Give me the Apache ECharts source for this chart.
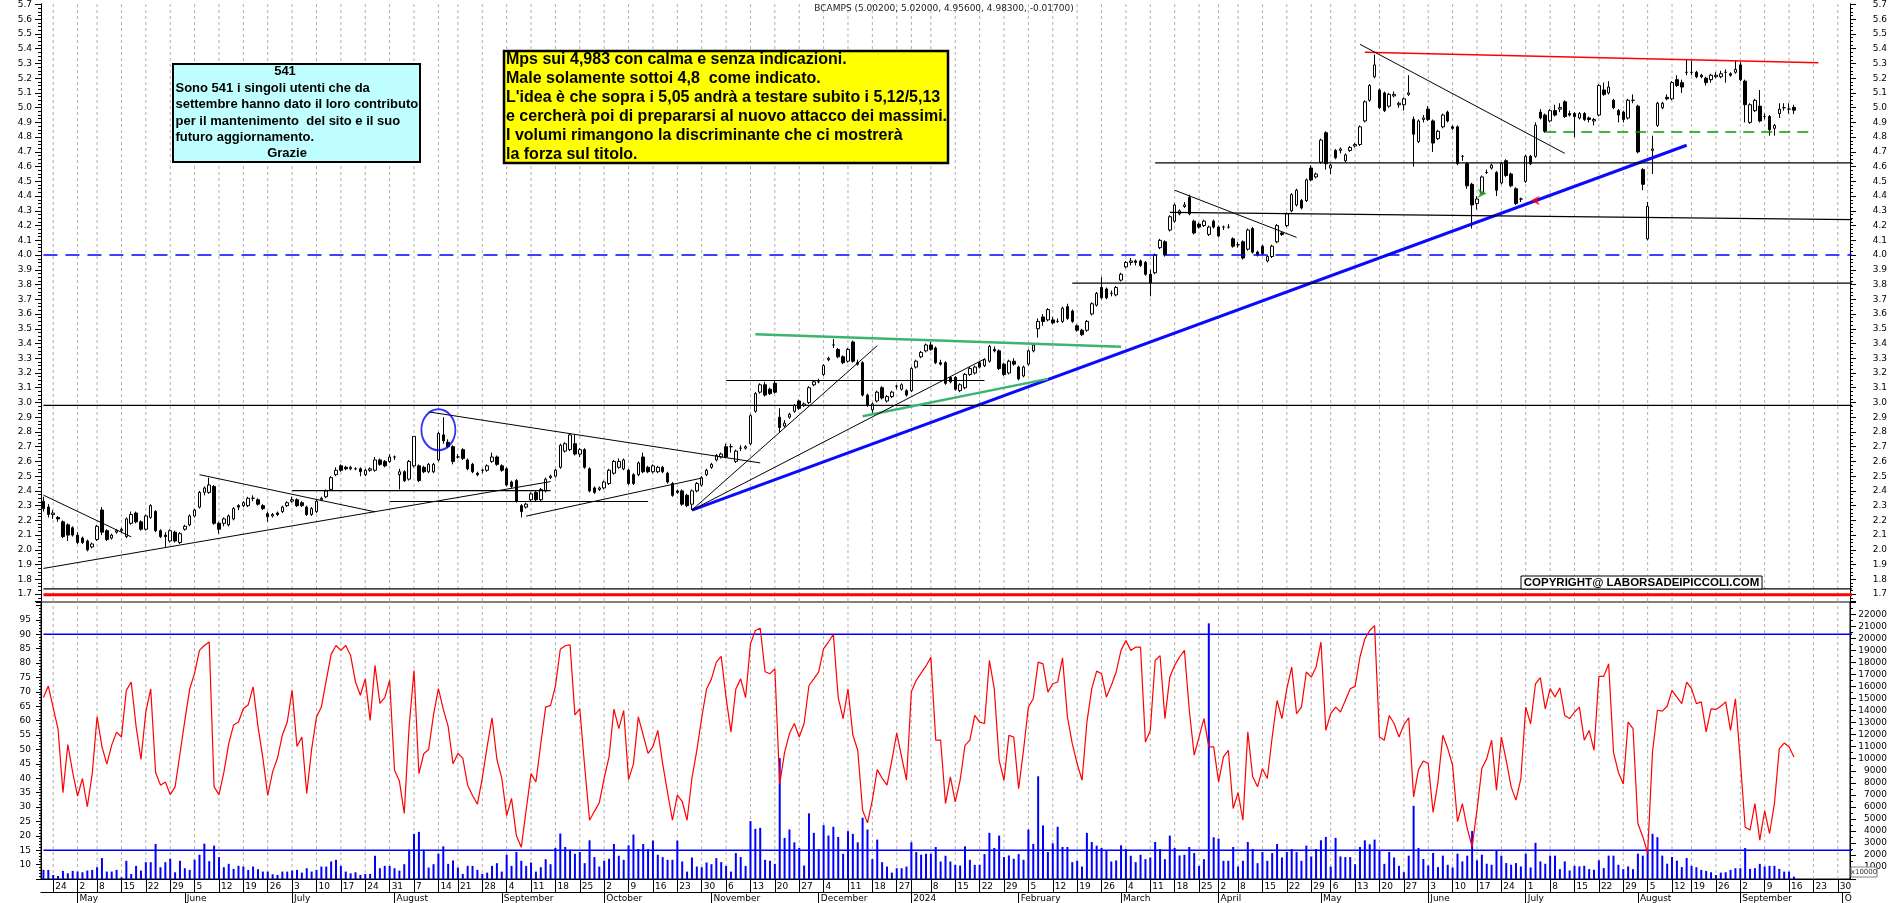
<!DOCTYPE html>
<html>
<head>
<meta charset="utf-8">
<script src="https://cdn.jsdelivr.net/npm/echarts@6/dist/echarts.min.js"></script>
<style>
html,body{margin:0;padding:0;background:#fff;}
#chart{width:1890px;height:903px;}
</style>
</head>
<body>
<div id="chart"></div>
<script>
// ---------- calendar (Borsa Italiana trading days) ----------
const HOLIDAYS = ['2023-05-01','2023-08-15','2023-12-25','2023-12-26','2024-01-01','2024-03-29','2024-04-01','2024-05-01','2024-08-15'];
const FIRST_DAY = '2023-04-20';
const SLOT_COUNT = 371; // axis runs to 2024-10-02
function buildDates(startISO, n) {
  const out = [];
  const d = new Date(startISO + 'T12:00:00Z');
  while (out.length < n) {
    const dow = d.getUTCDay();
    const iso = d.toISOString().slice(0, 10);
    if (dow !== 0 && dow !== 6 && HOLIDAYS.indexOf(iso) < 0) out.push(iso);
    d.setUTCDate(d.getUTCDate() + 1);
  }
  return out;
}
const dates = buildDates(FIRST_DAY, SLOT_COUNT);

// ---------- price data: [open, high, low, close] ----------
const ohlc = [
[2.33,2.36,2.26,2.28],[2.29,2.31,2.22,2.24],[2.24,2.27,2.21,2.25],[2.22,2.23,2.19,2.21],[2.19,2.20,2.08,2.09],[2.17,2.18,2.06,2.10],[2.15,2.16,2.09,2.10],[2.10,2.12,2.04,2.05],[2.08,2.09,2.04,2.05],[2.06,2.07,1.99,2.00],
[2.02,2.05,2.01,2.04],[2.07,2.17,2.06,2.16],[2.27,2.29,2.10,2.12],[2.13,2.14,2.06,2.07],[2.08,2.11,2.07,2.10],[2.12,2.14,2.11,2.13],[2.13,2.15,2.12,2.14],[2.09,2.22,2.08,2.21],[2.18,2.26,2.17,2.24],[2.25,2.26,2.18,2.19],
[2.19,2.20,2.13,2.14],[2.14,2.24,2.13,2.23],[2.22,2.31,2.21,2.30],[2.26,2.27,2.12,2.13],[2.13,2.14,2.08,2.09],[2.10,2.12,2.02,2.09],[2.06,2.14,2.05,2.13],[2.12,2.13,2.05,2.06],[2.05,2.12,2.04,2.11],[2.14,2.17,2.13,2.16],
[2.17,2.24,2.16,2.23],[2.23,2.28,2.22,2.27],[2.29,2.40,2.28,2.39],[2.39,2.43,2.37,2.42],[2.39,2.49,2.38,2.44],[2.43,2.44,2.17,2.18],[2.18,2.19,2.11,2.14],[2.18,2.22,2.16,2.21],[2.17,2.24,2.16,2.23],[2.21,2.29,2.20,2.28],
[2.30,2.31,2.27,2.29],[2.30,2.33,2.29,2.32],[2.30,2.36,2.29,2.35],[2.35,2.37,2.33,2.35],[2.34,2.35,2.30,2.31],[2.30,2.31,2.27,2.28],[2.245,2.26,2.19,2.225],[2.23,2.25,2.22,2.24],[2.25,2.26,2.23,2.24],[2.26,2.30,2.25,2.29],
[2.30,2.33,2.29,2.32],[2.33,2.36,2.32,2.34],[2.34,2.35,2.29,2.30],[2.32,2.33,2.29,2.30],[2.29,2.30,2.23,2.24],[2.24,2.29,2.23,2.28],[2.26,2.34,2.25,2.33],[2.34,2.36,2.33,2.35],[2.36,2.41,2.35,2.40],[2.41,2.50,2.40,2.49],
[2.51,2.56,2.50,2.54],[2.57,2.58,2.53,2.54],[2.56,2.57,2.54,2.55],[2.55,2.57,2.54,2.56],[2.55,2.56,2.54,2.55],[2.55,2.56,2.50,2.53],[2.51,2.55,2.50,2.54],[2.54,2.56,2.53,2.55],[2.54,2.63,2.53,2.61],[2.61,2.62,2.57,2.58],
[2.60,2.61,2.56,2.57],[2.60,2.65,2.59,2.63],[2.63,2.64,2.61,2.63],[2.51,2.55,2.41,2.53],[2.53,2.54,2.46,2.47],[2.48,2.61,2.47,2.60],[2.57,2.77,2.56,2.77],[2.57,2.58,2.46,2.47],[2.56,2.57,2.52,2.53],[2.53,2.59,2.52,2.58],
[2.53,2.59,2.52,2.58],[2.61,2.80,2.60,2.79],[2.78,2.90,2.72,2.74],[2.73,2.75,2.69,2.70],[2.70,2.71,2.58,2.60],[2.63,2.65,2.62,2.63],[2.68,2.69,2.61,2.62],[2.61,2.62,2.54,2.55],[2.58,2.59,2.52,2.53],[2.52,2.53,2.50,2.51],
[2.54,2.55,2.52,2.54],[2.54,2.58,2.53,2.57],[2.60,2.66,2.59,2.63],[2.63,2.64,2.57,2.58],[2.57,2.58,2.53,2.54],[2.55,2.56,2.43,2.44],[2.46,2.47,2.42,2.43],[2.47,2.48,2.32,2.33],[2.30,2.31,2.22,2.26],[2.29,2.32,2.28,2.31],
[2.34,2.39,2.33,2.38],[2.39,2.40,2.33,2.34],[2.34,2.42,2.33,2.41],[2.40,2.49,2.39,2.48],[2.49,2.51,2.48,2.50],[2.50,2.55,2.49,2.54],[2.56,2.72,2.55,2.71],[2.67,2.73,2.66,2.72],[2.68,2.79,2.67,2.78],[2.72,2.78,2.64,2.65],
[2.65,2.69,2.63,2.68],[2.68,2.69,2.55,2.56],[2.55,2.56,2.39,2.40],[2.42,2.43,2.38,2.39],[2.41,2.43,2.40,2.42],[2.42,2.47,2.41,2.46],[2.45,2.55,2.44,2.54],[2.52,2.61,2.51,2.60],[2.56,2.62,2.55,2.60],[2.55,2.62,2.54,2.61],
[2.54,2.55,2.44,2.45],[2.51,2.52,2.44,2.45],[2.51,2.60,2.50,2.59],[2.63,2.66,2.52,2.53],[2.56,2.57,2.52,2.53],[2.53,2.58,2.52,2.57],[2.53,2.57,2.52,2.56],[2.56,2.57,2.52,2.53],[2.52,2.53,2.45,2.46],[2.45,2.46,2.36,2.37],
[2.40,2.41,2.38,2.39],[2.40,2.41,2.30,2.31],[2.37,2.38,2.29,2.30],[2.31,2.41,2.27,2.40],[2.40,2.46,2.39,2.45],[2.44,2.50,2.43,2.49],[2.51,2.55,2.50,2.54],[2.56,2.59,2.55,2.58],[2.61,2.65,2.60,2.64],[2.63,2.66,2.62,2.65],
[2.70,2.72,2.62,2.63],[2.70,2.72,2.66,2.70],[2.60,2.68,2.59,2.67],[2.69,2.71,2.67,2.69],[2.69,2.71,2.68,2.70],[2.72,2.92,2.71,2.91],[2.94,3.07,2.93,3.06],[3.07,3.13,3.06,3.12],[3.12,3.14,3.04,3.05],[3.09,3.10,3.05,3.06],
[3.13,3.15,3.06,3.07],[2.90,2.96,2.80,2.83],[2.84,2.88,2.83,2.86],[2.90,2.93,2.89,2.92],[2.94,2.99,2.93,2.98],[3.01,3.02,2.95,2.96],[2.98,3.00,2.97,2.99],[3.00,3.11,2.99,3.10],[3.12,3.15,3.11,3.14],[3.14,3.16,3.13,3.14],
[3.19,3.26,3.18,3.25],[3.29,3.31,3.28,3.30],[3.39,3.43,3.37,3.39],[3.36,3.37,3.30,3.31],[3.31,3.32,3.26,3.27],[3.28,3.37,3.27,3.36],[3.41,3.42,3.27,3.28],[3.27,3.29,3.25,3.26],[3.27,3.28,3.04,3.05],[3.05,3.06,2.97,2.98],
[2.95,3.00,2.93,2.99],[3.01,3.08,3.00,3.07],[3.10,3.11,3.02,3.03],[3.01,3.05,3.00,3.04],[3.04,3.08,3.03,3.07],[3.11,3.12,3.09,3.11],[3.09,3.13,3.08,3.12],[3.08,3.09,3.04,3.05],[3.08,3.24,3.07,3.23],[3.24,3.29,3.23,3.28],
[3.31,3.35,3.30,3.34],[3.35,3.40,3.34,3.39],[3.39,3.41,3.35,3.36],[3.37,3.38,3.26,3.27],[3.27,3.29,3.25,3.26],[3.27,3.28,3.12,3.13],[3.17,3.18,3.13,3.14],[3.17,3.18,3.08,3.09],[3.08,3.13,3.07,3.12],[3.10,3.20,3.09,3.19],
[3.19,3.24,3.18,3.23],[3.20,3.25,3.19,3.24],[3.27,3.28,3.23,3.24],[3.25,3.30,3.24,3.29],[3.28,3.39,3.27,3.38],[3.36,3.38,3.34,3.35],[3.35,3.36,3.22,3.23],[3.26,3.27,3.18,3.19],[3.20,3.29,3.19,3.28],[3.28,3.30,3.25,3.26],
[3.24,3.25,3.15,3.16],[3.18,3.25,3.17,3.24],[3.26,3.36,3.25,3.35],[3.35,3.40,3.34,3.39],[3.50,3.57,3.44,3.55],[3.58,3.60,3.52,3.55],[3.56,3.64,3.55,3.63],[3.56,3.58,3.53,3.54],[3.55,3.57,3.54,3.55],[3.55,3.65,3.54,3.64],
[3.65,3.67,3.56,3.57],[3.62,3.63,3.54,3.55],[3.52,3.53,3.48,3.49],[3.49,3.50,3.45,3.46],[3.49,3.56,3.48,3.55],[3.60,3.68,3.59,3.67],[3.66,3.75,3.65,3.74],[3.78,3.85,3.70,3.71],[3.77,3.78,3.70,3.71],[3.74,3.76,3.72,3.74],
[3.73,3.79,3.72,3.78],[3.83,3.88,3.82,3.87],[3.92,3.96,3.91,3.95],[3.95,3.98,3.93,3.96],[3.96,3.97,3.93,3.95],[3.96,3.97,3.92,3.93],[3.95,3.96,3.86,3.87],[3.87,3.90,3.72,3.81],[3.88,4.01,3.87,4.00],[4.05,4.11,4.04,4.10],
[4.09,4.10,3.99,4.00],[4.17,4.27,4.16,4.26],[4.23,4.35,4.22,4.34],[4.28,4.31,4.27,4.30],[4.33,4.36,4.32,4.34],[4.39,4.41,4.27,4.28],[4.23,4.24,4.14,4.15],[4.21,4.22,4.18,4.19],[4.20,4.24,4.19,4.23],[4.14,4.20,4.13,4.19],
[4.23,4.24,4.18,4.19],[4.19,4.20,4.12,4.13],[4.19,4.20,4.17,4.19],[4.19,4.21,4.18,4.19],[4.11,4.12,4.05,4.06],[4.07,4.09,4.05,4.07],[4.09,4.10,3.97,3.98],[4.04,4.18,4.03,4.17],[4.18,4.19,4.01,4.02],[4.02,4.03,3.99,4.00],
[4.06,4.07,4.00,4.01],[3.96,4.00,3.95,3.99],[3.99,4.07,3.98,4.06],[4.09,4.21,4.08,4.20],[4.15,4.16,4.13,4.14],[4.20,4.29,4.19,4.28],[4.30,4.42,4.29,4.41],[4.34,4.45,4.33,4.44],[4.37,4.38,4.31,4.32],[4.37,4.52,4.36,4.51],
[4.59,4.61,4.50,4.51],[4.53,4.56,4.52,4.55],[4.63,4.79,4.62,4.78],[4.83,4.84,4.58,4.62],[4.59,4.62,4.55,4.61],[4.71,4.72,4.65,4.66],[4.71,4.73,4.69,4.72],[4.64,4.69,4.63,4.68],[4.71,4.74,4.70,4.73],[4.74,4.76,4.73,4.75],
[4.75,4.88,4.74,4.87],[4.91,5.05,4.90,5.04],[5.05,5.16,5.04,5.15],[5.21,5.36,5.20,5.29],[5.12,5.13,4.99,5.00],[5.10,5.11,4.97,4.98],[5.01,5.10,5.00,5.09],[5.08,5.11,5.07,5.09],[5.02,5.04,5.00,5.03],[5.02,5.07,4.98,5.06],
[5.09,5.22,5.08,5.10],[4.92,4.94,4.60,4.82],[4.77,4.92,4.76,4.91],[4.92,4.95,4.90,4.93],[4.99,5.01,4.91,4.92],[4.91,4.92,4.70,4.76],[4.79,4.85,4.78,4.84],[4.87,4.96,4.86,4.95],[4.97,4.98,4.90,4.91],[4.87,4.88,4.85,4.86],
[4.87,4.88,4.61,4.62],[4.67,4.68,4.64,4.67],[4.62,4.63,4.45,4.47],[4.48,4.49,4.18,4.34],[4.35,4.40,4.31,4.38],[4.42,4.54,4.41,4.53],[4.56,4.58,4.55,4.56],[4.59,4.62,4.58,4.61],[4.56,4.57,4.40,4.44],[4.49,4.63,4.48,4.62],
[4.64,4.65,4.53,4.54],[4.55,4.56,4.46,4.47],[4.45,4.46,4.34,4.35],[4.38,4.39,4.36,4.38],[4.50,4.68,4.49,4.67],[4.67,4.68,4.61,4.62],[4.67,4.90,4.66,4.88],[4.97,4.99,4.92,4.93],[4.95,4.96,4.83,4.84],[4.91,4.99,4.90,4.98],
[4.98,5.02,4.94,4.95],[4.99,5.03,4.97,5.00],[5.04,5.05,4.93,4.94],[4.96,4.98,4.94,4.95],[4.96,4.97,4.80,4.94],[4.93,4.97,4.92,4.96],[4.96,4.97,4.91,4.92],[4.93,4.94,4.90,4.92],[4.91,4.93,4.88,4.92],[4.95,5.16,4.94,5.15],
[5.12,5.17,5.08,5.09],[5.10,5.18,5.09,5.14],[5.05,5.06,4.99,5.00],[4.98,4.99,4.90,4.95],[4.97,4.98,4.90,4.92],[4.93,5.06,4.92,5.05],[5.05,5.09,5.03,5.05],[5.01,5.02,4.69,4.70],[4.58,4.59,4.44,4.48],[4.11,4.36,4.10,4.33],
[4.71,4.81,4.55,4.72],[4.88,5.04,4.87,5.03],[5.00,5.04,4.99,5.03],[5.07,5.09,5.05,5.06],[5.06,5.18,5.05,5.17],[5.19,5.22,5.14,5.15],[5.17,5.19,5.10,5.14],[5.24,5.33,5.22,5.24],[5.24,5.32,5.22,5.24],[5.24,5.25,5.20,5.21],
[5.22,5.23,5.20,5.21],[5.20,5.21,5.15,5.17],[5.19,5.23,5.17,5.22],[5.21,5.24,5.20,5.22],[5.21,5.25,5.20,5.23],[5.24,5.26,5.17,5.24],[5.23,5.24,5.21,5.22],[5.24,5.32,5.23,5.26],[5.29,5.31,5.18,5.19],[5.18,5.19,4.90,5.02],
[4.90,5.03,4.89,5.02],[4.98,5.06,4.97,5.05],[5.01,5.12,4.90,4.91],[4.94,4.96,4.92,4.94],[4.94,4.95,4.81,4.85],[4.86,4.89,4.81,4.88],[4.96,5.03,4.93,4.99],[5.00,5.03,4.98,5.00],[4.99,5.03,4.96,4.99],[5.002,5.02,4.956,4.983]
];

// ---------- oscillator (left lower scale) ----------
const osc = [
68,72,64.5,57,35,51.7,42,33.8,39.9,30.1,
41.5,61.3,51,44.9,51.5,56,54.3,70.5,73.4,58,
46.5,63,71,42,37.6,38.7,34.3,37,48.5,60.1,
71,76.5,84.4,86.1,87.3,37,34.3,42,52,58.5,
59.5,64.1,65.5,71.7,58,47,34,42.2,47,55,
59.5,70.5,51,54.3,34.7,50,61.3,64.7,74,83,
86.1,84.4,86.1,82.6,73.4,68.8,74.5,60.1,79.2,66,
68,74,42.8,39,27.8,58,77.4,41.6,48.5,50,
62,71.1,64,58,45,48.6,47,37.6,34,31,
40,51,61,46.5,40,27,33,20,16,29,
41.6,38.7,52,64.7,65.3,72,84.8,86,86.3,62,
64.1,44,25.4,28.5,31.5,40,47.4,64,57.2,63.5,
39.5,45,61.3,55,48.6,51,56.6,45,35,25.4,
34.1,32,25.4,40,49.7,61,71,74.5,80.3,82.3,
68,56,71,74.5,68,86.7,91.3,92.1,77,76.3,
78,38,49,55.5,59,54.3,59,72.2,74.5,76.9,
85,87.3,90,68,60.7,71,55,49.7,28.9,24.5,
32.4,43,40,37.6,46.2,55.7,47.4,39.3,70,74,
76.5,79,82,53.2,53.2,31.2,40.5,31.8,39.3,51.4,
53.2,61.8,59.5,59,80.9,71.1,46.2,39.3,54.9,54.3,
36.4,49.7,64.7,67.6,80.3,79.7,69.9,72.8,73.4,81.8,
61.3,52,45.1,39.3,59.5,71.1,77.2,76.3,68.2,72.2,
76.9,84.4,87.8,84.4,85.5,85.5,52.6,56.6,80.9,82.6,
60.7,75.1,79.2,82.1,84.4,63.6,48,54.3,60.7,50.9,
50.9,38.7,47.4,49.7,29.5,35,25.4,56.1,40.5,37,
43.3,39.9,54.3,67,60.7,71.1,78.6,62.4,64.7,76.9,
75.1,78.6,87.3,56.6,62.4,64.7,63,67,71.1,71.9,
82.1,88.4,91.3,93,54.3,53.2,61.8,59,54.3,58.5,
61,33.5,43,46,45.1,28.1,38.7,54.9,50.3,44.5,
24.9,31.2,22.6,16.2,28.9,43.4,46.8,53.2,35.8,54.3,
46.2,37,32.4,39.9,64.7,58.9,72.8,74.9,64.1,71.1,
68.2,71.4,61.8,60.7,63,64.7,53.2,56.6,49.7,75.4,
75.4,79.7,49,42,38,59.5,57.2,24.3,19.7,13.9,
49.1,63.6,63.3,65,70.5,68.2,65.9,73.4,71.1,65.9,
66.5,56.1,64.1,63.9,65,66.5,56.6,67.6,46.2,23,
22,31.2,18.5,28.7,20.8,31.2,50.3,52.2,50.9,47.4
];

// ---------- volume (x10000, right lower scale) ----------
const volume = [
756,756,336,252,672,476,672,616,560,700,
756,980,1737,616,616,756,140,1512,420,1092,
700,1400,1400,2913,980,1400,1680,560,1512,896,
756,1596,2016,2940,1484,2773,1820,980,1260,840,
1092,1036,750,1036,812,616,616,392,336,616,
616,700,756,532,896,616,756,1036,1036,1456,
1596,1092,616,476,560,336,420,420,1932,896,
1092,1092,896,700,1232,2436,3752,3920,2436,952,
1232,2100,2716,1260,1540,952,420,1092,1092,756,
420,532,1092,1316,616,2016,1092,2240,1512,1092,
1372,616,980,1652,1232,2576,3780,2660,2436,2100,
2240,1316,3220,1820,1036,1512,1680,2912,1932,1596,
2800,3696,2492,2912,2492,3192,2016,1820,1596,1596,
3192,1456,616,1792,1036,980,1372,1232,1736,1400,
1092,616,2156,1820,1092,4816,4172,4256,1596,1512,
1260,10052,3416,4116,3052,2576,1120,5460,3836,2492,
4480,3612,4340,3500,2100,3976,3752,3052,5096,4116,
1652,3276,1400,1036,532,896,896,1036,3052,2240,
2016,2100,2100,2660,1456,1932,1456,1176,1120,2716,
1596,1176,1176,2072,3836,2576,3612,1820,1960,1680,
2072,1596,4116,2912,8540,4452,2240,2968,4340,2660,
2660,1400,1512,1036,3836,3080,2772,2576,2380,1456,
1540,2800,2492,1932,1400,2016,1652,1792,3080,2492,
1652,3612,2576,1960,2016,2660,2156,1092,1652,21261,
3472,3360,1512,1512,2660,1036,1512,3080,2492,1316,
2240,1512,2156,2912,1792,2240,2492,2240,1512,2772,
1876,2492,3220,3500,1036,3416,1876,1820,1820,1232,
2660,3220,2884,3276,2380,1260,2240,1792,1092,569,
1941,6085,2585,1661,1129,2165,989,1941,1185,961,
2109,1465,1941,3985,1549,2025,1269,1185,2389,1941,
1325,1185,1325,1045,2109,961,3005,1465,1269,1941,
1941,821,1465,709,1101,1045,1101,821,765,1549,
905,1941,1941,1185,821,1045,821,2109,1941,2389,
3761,3481,1941,1269,1829,1521,989,1745,1092,980,
756,672,560,336,532,560,756,896,896,2580,
840,896,1260,1036,1092,1092,840,616,616,196
];

// ---------- drawn annotation lines [xIndex1, price1, xIndex2, price2, style] ----------
const trendLines = [
  [133, 2.27, 337.2, 4.745, 'blueThick'],
  [271.1, 5.376, 364.1, 5.304, 'red'],
  [307.9, 4.835, 363, 4.835, 'greenDash'],
  [-0.5, 4.0, 370.5, 4.0, 'blueDash'],
  [-0.5, 2.98, 370.5, 2.98, 'level'],
  [-0.5, 1.735, 370.5, 1.735, 'level'],
  [-0.5, 1.695, 370.5, 1.695, 'redThick'],
  [228.2, 4.625, 370.5, 4.625, 'level'],
  [211.1, 3.81, 370.5, 3.81, 'level'],
  [231.1, 4.29, 370.5, 4.24, 'level'],
  [270.2, 5.43, 312, 4.69, 'thin'],
  [232, 4.44, 257.1, 4.12, 'thin'],
  [145.7, 3.463, 221, 3.378, 'green'],
  [168.2, 2.907, 206.2, 3.16, 'green'],
  [139.9, 3.149, 193, 3.149, 'level'],
  [133, 2.27, 170.7, 3.385, 'thin'],
  [133, 2.27, 193.4, 3.295, 'thin'],
  [79, 2.936, 146.8, 2.59, 'thin'],
  [-0.5, 2.371, 18, 2.088, 'thin'],
  [-0.5, 1.874, 104, 2.463, 'thin'],
  [32.1, 2.51, 67.5, 2.258, 'thin'],
  [51, 2.402, 103.7, 2.402, 'level'],
  [71.2, 2.328, 123.8, 2.328, 'level'],
  [99.2, 2.229, 134.7, 2.487, 'thin']
];
const circleMark = [81.3, 2.815];
const greenArrow = [296, 4.418];
const redArrow = [304.7, 4.37];
const oscLevels = [90, 15];

const MONTHS = ['January','February','March','April','May','June','July','August','September','October','November','December'];

// ---------- helpers ----------
function dow(iso) { return new Date(iso + 'T12:00:00Z').getUTCDay(); }
const isWeekStart = dates.map((d, i) => i > 0 && dow(d) <= dow(dates[i - 1]));
const isMonthStart = dates.map((d, i) => i > 0 && d.slice(5, 7) !== dates[i - 1].slice(5, 7));
const weekFn = (i) => isWeekStart[i];
const weekLabelFn = (i) => isWeekStart[i] && !(isMonthStart[i] && dates[i].slice(5, 7) === '01');
const monthFn = (i) => isMonthStart[i];
function monthLabel(v) {
  const m = +v.slice(5, 7);
  if (m === 1) return v.slice(0, 4);
  if (v.slice(0, 7) === '2024-10') return 'O';
  return MONTHS[m - 1];
}
// vertical weekly grid lines, one broken polyline per pane
function weekGrid(lo, hi) {
  const out = [];
  isWeekStart.forEach((w, i) => { if (w) { out.push([i, lo], [i, hi], [i, '-']); } });
  return out;
}

const LINE_STYLES = {
  blueThick: { color: '#0a0aff', width: 3 },
  red: { color: '#ff0000', width: 1.5 },
  greenDash: { color: '#00a000', width: 1.5, type: [11, 7] },
  blueDash: { color: '#0000ff', width: 1.5, type: [14, 8] },
  level: { color: '#000000', width: 1.2 },
  redThick: { color: '#ff0000', width: 3 },
  thin: { color: '#000000', width: 1 },
  green: { color: '#3cb46e', width: 2.5 }
};

const AXIS_FONT = 'DejaVu Sans';
const gridLineStyle = { color: '#b0b0b0', width: 1, type: [3, 3] };

const PRICE_MIN = 1.653, PRICE_MAX = 5.705;
const OSC_MIN = 5, OSC_MAX = 101.2;

const series = [];
series.push({
  type: 'line', xAxisIndex: 0, yAxisIndex: 0, z: 1, silent: true, symbol: 'none', connectNulls: false,
  data: weekGrid(PRICE_MIN, PRICE_MAX), lineStyle: gridLineStyle
});
series.push({
  type: 'line', xAxisIndex: 1, yAxisIndex: 2, z: 1, silent: true, symbol: 'none', connectNulls: false,
  data: weekGrid(OSC_MIN, OSC_MAX), lineStyle: gridLineStyle
});
series.push({
  type: 'candlestick', xAxisIndex: 0, yAxisIndex: 0, z: 3,
  barWidth: 3,
  data: ohlc.map(r => [r[0], r[3], r[2], r[1]]),
  itemStyle: { color: '#ffffff', color0: '#000000', borderColor: '#000000', borderColor0: '#000000', borderWidth: 1 }
});
trendLines.forEach(t => {
  series.push({
    type: 'line', xAxisIndex: 0, yAxisIndex: 0, z: 4, silent: true, symbol: 'none',
    data: [[t[0], t[1]], [t[2], t[3]]],
    lineStyle: LINE_STYLES[t[4]]
  });
});
series.push({
  type: 'scatter', xAxisIndex: 0, yAxisIndex: 0, z: 5, silent: true,
  symbol: 'circle', symbolSize: [34, 41], data: [circleMark],
  itemStyle: { color: 'rgba(0,0,0,0)', borderColor: '#0000ff', borderWidth: 2 }
});
series.push({
  type: 'scatter', xAxisIndex: 0, yAxisIndex: 0, z: 5, silent: true,
  symbol: 'arrow', symbolSize: [7, 9], symbolRotate: -90, data: [greenArrow],
  itemStyle: { color: '#1c9a1c' }
});
series.push({
  type: 'scatter', xAxisIndex: 0, yAxisIndex: 0, z: 5, silent: true,
  symbol: 'arrow', symbolSize: [7, 9], symbolRotate: 90, data: [redArrow],
  itemStyle: { color: '#ff0000' }
});
series.push({
  type: 'bar', xAxisIndex: 1, yAxisIndex: 3, z: 2, barWidth: 2,
  data: volume, itemStyle: { color: '#0000ff' }
});
oscLevels.forEach(v => {
  series.push({
    type: 'line', xAxisIndex: 1, yAxisIndex: 2, z: 3, silent: true, symbol: 'none',
    data: [[-0.5, v], [370.5, v]], lineStyle: { color: '#0000ff', width: 1.5 }
  });
});
series.push({
  type: 'line', xAxisIndex: 1, yAxisIndex: 2, z: 4, symbol: 'none',
  data: osc, lineStyle: { color: '#ff0000', width: 1.2 }
});

const yLabelBase = { color: '#000', fontSize: 9, fontFamily: AXIS_FONT };
const option = {
  animation: false,
  backgroundColor: '#ffffff',
  textStyle: { fontFamily: AXIS_FONT },
  grid: [
    { left: 41, right: 40, top: 0, height: 601, show: false },
    { left: 41, right: 40, top: 602, height: 277, show: true, borderColor: '#000', borderWidth: 1, backgroundColor: 'rgba(0,0,0,0)' }
  ],
  xAxis: [
    { type: 'category', gridIndex: 0, data: dates, boundaryGap: true,
      axisLine: { show: false }, axisTick: { show: false }, axisLabel: { show: false }, splitLine: { show: false } },
    { type: 'category', gridIndex: 1, data: dates, boundaryGap: true, position: 'bottom',
      axisLine: { show: true, lineStyle: { color: '#000', width: 1 } },
      axisTick: { show: true, interval: weekFn, alignWithLabel: true, length: 13, lineStyle: { color: '#000' } },
      axisLabel: { show: true, interval: weekLabelFn, formatter: v => String(+v.slice(8, 10)), align: 'left',
        padding: [0, 0, 0, 2], margin: 3, color: '#000', fontSize: 9, fontFamily: AXIS_FONT },
      splitLine: { show: false } },
    { type: 'category', gridIndex: 1, data: dates, boundaryGap: true, position: 'bottom', offset: 13,
      axisLine: { show: true, lineStyle: { color: '#000', width: 1 } },
      axisTick: { show: true, interval: monthFn, alignWithLabel: true, length: 12, lineStyle: { color: '#000' } },
      axisLabel: { show: true, interval: monthFn, formatter: monthLabel, align: 'left',
        padding: [0, 0, 0, 2], margin: 2, color: '#000', fontSize: 9, fontFamily: AXIS_FONT },
      splitLine: { show: false } }
  ],
  yAxis: [
    { type: 'value', gridIndex: 0, position: 'left', min: PRICE_MIN, max: PRICE_MAX, splitNumber: 40,
      axisLine: { show: true, lineStyle: { color: '#000' } },
      axisTick: { show: true, length: 6, lineStyle: { color: '#000' } },
      minorTick: { show: true, splitNumber: 4, length: 3, lineStyle: { color: '#000' } },
      splitLine: { show: false },
      axisLabel: Object.assign({ showMinLabel: false, showMaxLabel: false, margin: 9, formatter: v => v.toFixed(1) }, yLabelBase) },
    { type: 'value', gridIndex: 0, position: 'right', min: PRICE_MIN, max: PRICE_MAX, splitNumber: 40,
      axisLine: { show: true, lineStyle: { color: '#000' } },
      axisTick: { show: true, length: 6, lineStyle: { color: '#000' } },
      minorTick: { show: true, splitNumber: 4, length: 3, lineStyle: { color: '#000' } },
      splitLine: { show: false },
      axisLabel: Object.assign({ showMinLabel: false, showMaxLabel: false, margin: 37, align: 'right', formatter: v => v.toFixed(1) }, yLabelBase) },
    { type: 'value', gridIndex: 1, position: 'left', min: OSC_MIN, max: OSC_MAX, interval: 5,
      axisLine: { show: true, lineStyle: { color: '#000' } },
      axisTick: { show: true, length: 5, lineStyle: { color: '#000' } },
      minorTick: { show: true, splitNumber: 5, length: 2, lineStyle: { color: '#000' } },
      splitLine: { show: false },
      axisLabel: Object.assign({ margin: 10, formatter: v => (v >= 10 && v <= 95) ? String(v) : '' }, yLabelBase) },
    { type: 'value', gridIndex: 1, position: 'right', min: 0, max: 23035, interval: 1000,
      axisLine: { show: true, lineStyle: { color: '#000' } },
      axisTick: { show: true, length: 6, lineStyle: { color: '#000' } },
      minorTick: { show: true, splitNumber: 2, length: 3, lineStyle: { color: '#000' } },
      splitLine: { show: false },
      axisLabel: Object.assign({ margin: 37, align: 'right', formatter: v => (v >= 1000 && v <= 22000) ? String(v) : '' }, yLabelBase) }
  ],
  series: series,
  graphic: [
    { type: 'text', x: 944, y: 9, z: 100, style: { text: 'BCAMPS (5.00200, 5.02000, 4.95600, 4.98300, -0.01700)', font: '9px "DejaVu Sans"', fill: '#222', align: 'center', verticalAlign: 'middle' } },
    // cyan box
    { type: 'rect', z: 100, shape: { x: 173, y: 64, width: 247, height: 98 }, style: { fill: '#c0ffff', stroke: '#000', lineWidth: 2 } },
    { type: 'text', z: 101, x: 285, y: 71.5, style: { text: '541', font: 'bold 13px "Liberation Sans"', fill: '#000', align: 'center', verticalAlign: 'middle' } },
    { type: 'text', z: 101, x: 175.5, y: 88.5, style: { text: 'Sono 541 i singoli utenti che da', font: 'bold 13px "Liberation Sans"', fill: '#000', align: 'left', verticalAlign: 'middle' } },
    { type: 'text', z: 101, x: 175.5, y: 104.5, style: { text: 'settembre hanno dato il loro contributo', font: 'bold 13px "Liberation Sans"', fill: '#000', align: 'left', verticalAlign: 'middle' } },
    { type: 'text', z: 101, x: 175.5, y: 121, style: { text: 'per il mantenimento  del sito e il suo', font: 'bold 13px "Liberation Sans"', fill: '#000', align: 'left', verticalAlign: 'middle' } },
    { type: 'text', z: 101, x: 175.5, y: 137.5, style: { text: 'futuro aggiornamento.', font: 'bold 13px "Liberation Sans"', fill: '#000', align: 'left', verticalAlign: 'middle' } },
    { type: 'text', z: 101, x: 287, y: 153.5, style: { text: 'Grazie', font: 'bold 13px "Liberation Sans"', fill: '#000', align: 'center', verticalAlign: 'middle' } },
    // yellow box
    { type: 'rect', z: 100, shape: { x: 504, y: 51, width: 444, height: 112 }, style: { fill: '#ffff00', stroke: '#000', lineWidth: 2.5 } },
    { type: 'text', z: 101, x: 506, y: 60, style: { text: 'Mps sui 4,983 con calma e senza indicazioni.', font: 'bold 16px "Liberation Sans"', fill: '#000', align: 'left', verticalAlign: 'middle' } },
    { type: 'text', z: 101, x: 506, y: 79, style: { text: 'Male solamente sottoi 4,8  come indicato.', font: 'bold 16px "Liberation Sans"', fill: '#000', align: 'left', verticalAlign: 'middle' } },
    { type: 'text', z: 101, x: 506, y: 98, style: { text: "L'idea è che sopra i 5,05 andrà a testare subito i 5,12/5,13", font: 'bold 16px "Liberation Sans"', fill: '#000', align: 'left', verticalAlign: 'middle' } },
    { type: 'text', z: 101, x: 506, y: 117, style: { text: 'e cercherà poi di prepararsi al nuovo attacco dei massimi.', font: 'bold 16px "Liberation Sans"', fill: '#000', align: 'left', verticalAlign: 'middle' } },
    { type: 'text', z: 101, x: 506, y: 136, style: { text: 'I volumi rimangono la discriminante che ci mostrerà', font: 'bold 16px "Liberation Sans"', fill: '#000', align: 'left', verticalAlign: 'middle' } },
    { type: 'text', z: 101, x: 506, y: 155, style: { text: 'la forza sul titolo.', font: 'bold 16px "Liberation Sans"', fill: '#000', align: 'left', verticalAlign: 'middle' } },
    // copyright
    { type: 'rect', z: 100, shape: { x: 1521, y: 576, width: 241, height: 13 }, style: { fill: '#ffffff', stroke: '#000', lineWidth: 1 } },
    { type: 'text', z: 101, x: 1641.5, y: 583, style: { text: 'COPYRIGHT@ LABORSADEIPICCOLI.COM', font: 'bold 11.5px "Liberation Sans"', fill: '#000', align: 'center', verticalAlign: 'middle' } },
    // x10000 scale tag
    { type: 'rect', z: 100, shape: { x: 1851, y: 867, width: 26, height: 10 }, style: { fill: '#ffffff', stroke: '#808080', lineWidth: 1 } },
    { type: 'text', z: 101, x: 1864, y: 872.5, style: { text: 'x10000', font: '7px "DejaVu Sans"', fill: '#333', align: 'center', verticalAlign: 'middle' } }
  ]
};

const chart = echarts.init(document.getElementById('chart'), null, { renderer: 'canvas', width: 1890, height: 903 });
chart.setOption(option);
</script>
</body>
</html>
